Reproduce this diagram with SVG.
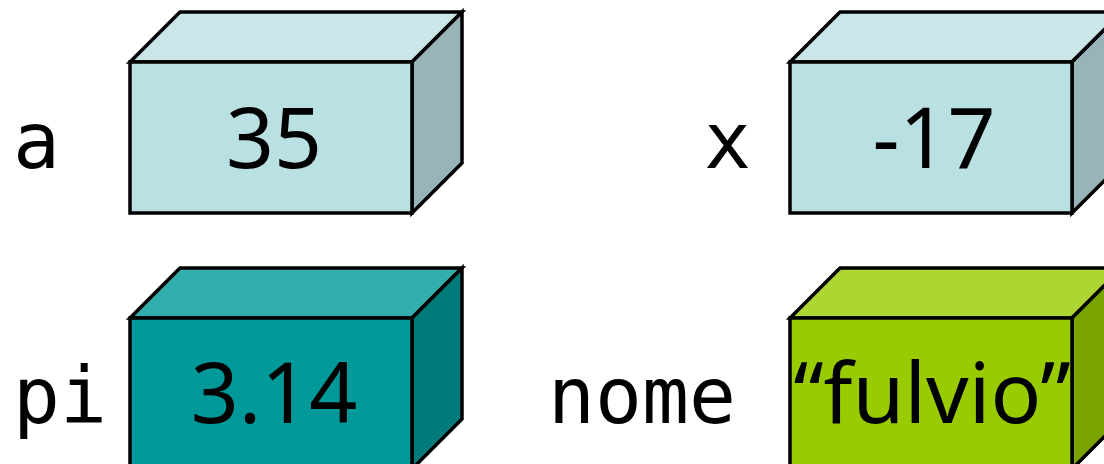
<svg xmlns="http://www.w3.org/2000/svg" width="1104" height="464" viewBox="0 0 1104 464">
  <style>
    .edge { stroke: #000; stroke-width: 3.5; stroke-linejoin: miter; }
    .val { font-family: "Noto Sans", "DejaVu Sans", sans-serif; font-size: 84px; fill: #000; text-anchor: middle; }
    .name { font-family: "DejaVu Sans Mono", "Liberation Mono", monospace; font-size: 78px; fill: #000; }
    .light .front { fill: #B9E0E3; } .light .top { fill: #C9E6E9; } .light .side { fill: #97B4B8; }
    .teal .front { fill: #009999; } .teal .top { fill: #33ADAD; } .teal .side { fill: #007A7A; }
    .lime .front { fill: #99CC00; } .lime .top { fill: #ADD633; } .lime .side { fill: #7AA300; }
  </style>

  <!-- each box: front face 282 x 151, depth 50 -->
  <g id="var-a">
    <text class="name" x="13" y="168">a</text>
    <g class="light" transform="translate(130,62)">
      <polygon class="top edge" points="0,0 50,-50 332,-50 282,0"/>
      <polygon class="side edge" points="282,0 332,-50 332,101 282,151"/>
      <rect class="front edge" x="0" y="0" width="282" height="151"/>
    </g>
    <text class="val" x="274" y="168">35</text>
  </g>

  <g id="var-x">
    <text class="name" x="704" y="168">x</text>
    <g class="light" transform="translate(790,62)">
      <polygon class="top edge" points="0,0 50,-50 332,-50 282,0"/>
      <polygon class="side edge" points="282,0 332,-50 332,101 282,151"/>
      <rect class="front edge" x="0" y="0" width="282" height="151"/>
    </g>
    <text class="val" x="934" y="168">-17</text>
  </g>

  <g id="var-pi">
    <text class="name" x="13" y="423">pi</text>
    <g class="teal" transform="translate(130,318)">
      <polygon class="top edge" points="0,0 50,-50 332,-50 282,0"/>
      <polygon class="side edge" points="282,0 332,-50 332,101 282,151"/>
      <rect class="front edge" x="0" y="0" width="282" height="151"/>
    </g>
    <text class="val" x="274" y="423">3.14</text>
  </g>

  <g id="var-nome">
    <text class="name" x="548" y="423">nome</text>
    <g class="lime" transform="translate(790,318)">
      <polygon class="top edge" points="0,0 50,-50 332,-50 282,0"/>
      <polygon class="side edge" points="282,0 332,-50 332,101 282,151"/>
      <rect class="front edge" x="0" y="0" width="282" height="151"/>
    </g>
    <text class="val" x="932" y="423">“fulvio”</text>
  </g>

  <g id="connectors"/>
</svg>
